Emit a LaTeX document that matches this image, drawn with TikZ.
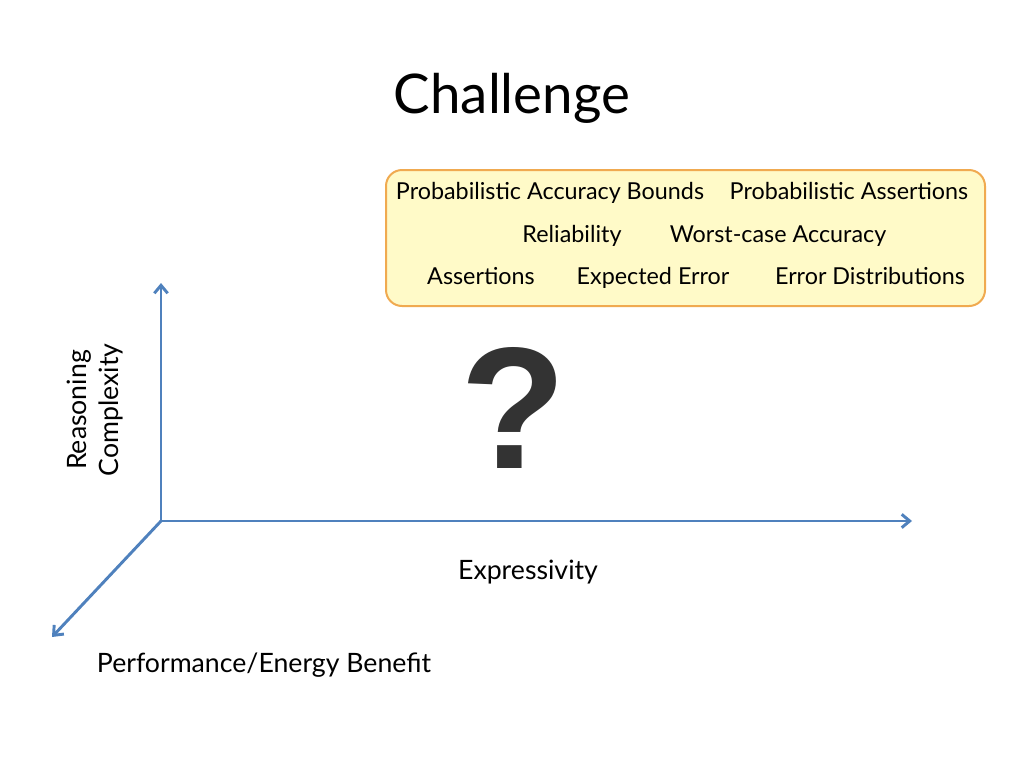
\documentclass[tikz,border=0pt]{standalone}
\usepackage{fontspec}
\setmainfont{Lato}
\newfontfamily\qfont{Liberation Sans}
\usetikzlibrary{arrows.meta}
\definecolor{axisblue}{RGB}{79,129,189}
\definecolor{boxfill}{RGB}{255,250,200}
\definecolor{boxline}{RGB}{240,170,80}
\tikzset{
    AX/.style ={draw=axisblue, line width=2.2pt, -{Straight Barb[length=6pt,width=10pt]}},
    TB/.style ={font=\fontsize{17.5}{20}\selectfont, anchor=base},
    LB/.style ={font=\fontsize{20}{24}\selectfont, align=center}}
\begin{document}
\begin{tikzpicture}[x=0.75pt,y=-0.75pt]
        \useasboundingbox (0,0) rectangle (1024,768);
        \node[font=\fontsize{41}{46}\selectfont] (title) at (512,98){Challenge};
        \draw[draw=boxline, fill=boxfill, line width=1.5pt, rounded corners=12pt] (386,170) rectangle (985,306);
        \node[TB] (b1) at (550,199){Probabilistic Accuracy Bounds};
        \node[TB] (b2) at (849,199){Probabilistic Assertions};
        \node[TB] (b3) at (572,242){Reliability};
        \node[TB] (b4) at (778,242){Worst-case Accuracy};
        \node[TB] (b5) at (481,284){Assertions};
        \node[TB] (b6) at (653,284){Expected Error};
        \node[TB] (b7) at (870,284){Error Distributions};
        % axes
        \coordinate (o) at (161,521);
        \coordinate (up) at (161,283);
        \coordinate (rt) at (912,521);
        \coordinate (dg) at (52,637);
        \draw[AX] (o) -- (up);
        \draw[AX] (o) -- (rt);
        \draw[AX] (o) -- (dg);
        \node[font=\fontsize{130}{140}\qfont\bfseries\selectfont, text=black!80] (q) at (513,408){?};
        \node[LB, rotate=90] (rc) at (95,410){Reasoning\\Complexity};
        \node[LB] (ex) at (528,572){Expressivity};
        \node[LB] (pe) at (264,665){Performance/Energy Benefit};
    \end{tikzpicture}
\end{document}
